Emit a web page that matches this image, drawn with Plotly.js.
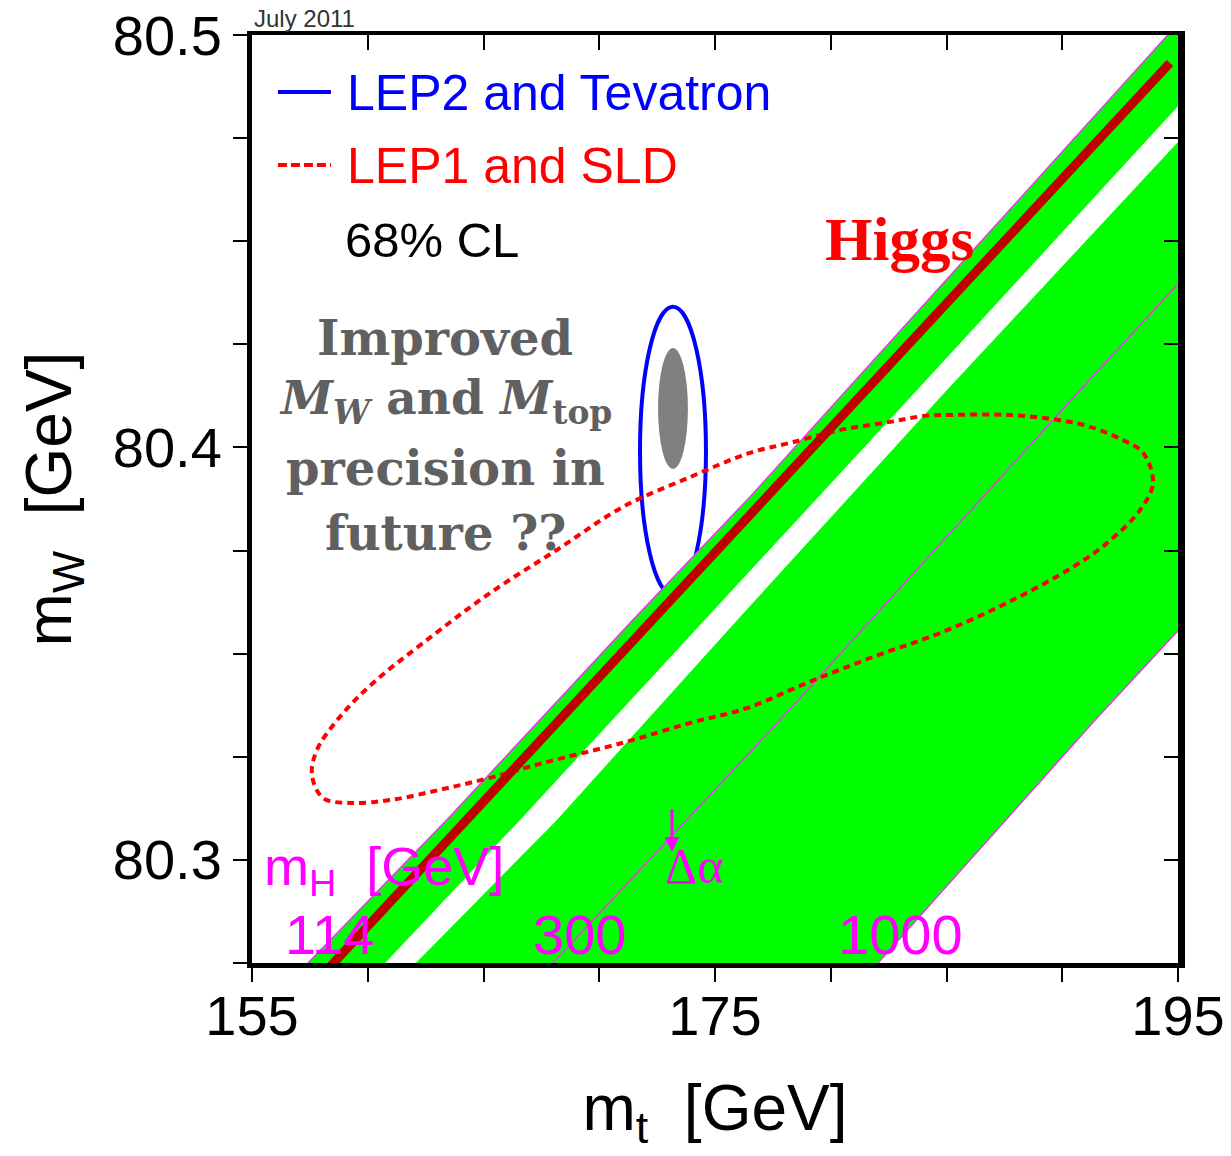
<!DOCTYPE html>
<html>
<head>
<meta charset="utf-8">
<script src="https://cdn.plot.ly/plotly-3.0.1.min.js"></script>
<style>html,body{margin:0;padding:0;background:#fff;}#chart{width:1231px;height:1156px;}</style>
</head>
<body>
<div id="chart"></div>
<script>
// ---------- data ----------
const mtTicks = [155,160,165,170,175,180,185,190,195];
const mtLabelVals = [155,175,195];
const mtLabelText = ['155','175','195'];
const mwTicks = [80.275,80.3,80.325,80.35,80.375,80.4,80.425,80.45,80.475,80.5];
const mwLabelVals = [80.3,80.4,80.5];
const mwLabelText = ['80.3','80.4','80.5'];

// SM band edges (m_t, m_W)
const edgeA_mt = [157.42, 163.42, 171.46, 176.51, 194.48, 195.3];   // mH = 114 edge
const edgeA_mw = [80.275, 80.3097, 80.3582, 80.3880, 80.4995, 80.5046];
const edgeB_mt = [195.3, 194.96, 183.73, 176.08, 166.58, 160.75];   // end of first green strip
const edgeB_mw = [80.4846, 80.4825, 80.4139, 80.3674, 80.3097, 80.275];
const edgeC_mt = [162.08, 168.17, 176.08, 185.02, 194.96, 195.3];   // start of second green strip
const edgeC_mw = [80.275, 80.3097, 80.3589, 80.4139, 80.4738, 80.4757];
const edgeD_mt = [195.3, 194.96, 191.50, 182.04];                   // mH = 1000 edge
const edgeD_mw = [80.3572, 80.3553, 80.3344, 80.275];
const line300_mt = [168.0, 177.81, 190.77, 194.96];
const line300_mw = [80.275, 80.3339, 80.4139, 80.4394];

// Higgs line
const higgs_mt = [158.24, 194.65];
const higgs_mw = [80.2733, 80.4932];

// LEP1 and SLD 68% CL contour
const lep1_mt = [157.59,157.81,158.80,160.23,162.39,165.28,168.18,171.03,173.92,176.51,178.24,180.40,182.56,183.99,185.45,187.61,189.77,191.20,192.62,193.49,193.92,193.36,191.93,190.46,187.61,184.72,181.83,178.97,176.38,173.92,171.03,167.57,165.28,163.12,160.96,159.23,158.07,157.59];
const lep1_mw = [80.3206,80.3267,80.3347,80.3429,80.3526,80.3647,80.3752,80.3856,80.3928,80.3987,80.4011,80.4042,80.4062,80.4076,80.4079,80.4079,80.4067,80.4050,80.4018,80.3987,80.3914,80.3848,80.3768,80.3710,80.3623,80.3550,80.3492,80.3429,80.3368,80.3332,80.3284,80.3235,80.3199,80.3170,80.3145,80.3138,80.3150,80.3206];

// LEP2 and Tevatron 68% CL ellipse (bounding box)
const lep2_mt = [171.76, 174.61];
const lep2_mw = [80.3642, 80.4341];
// future precision ellipse (bounding box)
const future_mt = [172.54, 173.83];
const future_mw = [80.3948, 80.4241];

// ---------- traces ----------
const magenta = '#e040e8';
const traces = [
  {x: edgeA_mt.concat(edgeB_mt), y: edgeA_mw.concat(edgeB_mw), mode:'lines', fill:'toself',
   fillcolor:'#00ff00', line:{width:0}, hoverinfo:'skip', showlegend:false},
  {x: edgeC_mt.concat(edgeD_mt), y: edgeC_mw.concat(edgeD_mw), mode:'lines', fill:'toself',
   fillcolor:'#00ff00', line:{width:0}, hoverinfo:'skip', showlegend:false},
  {x: edgeA_mt, y: edgeA_mw, mode:'lines', line:{color:magenta, width:1.6}, showlegend:false},
  {x: edgeD_mt, y: edgeD_mw, mode:'lines', line:{color:magenta, width:1.6}, showlegend:false},
  {x: line300_mt, y: line300_mw, mode:'lines', line:{color:magenta, width:1.6}, showlegend:false},
  {x: lep1_mt, y: lep1_mw, mode:'lines', line:{color:'#ff0000', width:4, dash:'7px,5px', shape:'spline', smoothing:1},
   showlegend:false},
  {x: higgs_mt, y: higgs_mw, mode:'lines', line:{color:'#c00000', width:9}, showlegend:false},
  {x:[null], y:[null], xaxis:'x2', yaxis:'y2', mode:'lines', showlegend:false, hoverinfo:'skip'},
  {x:[null], y:[null], xaxis:'x3', yaxis:'y3', mode:'lines', showlegend:false, hoverinfo:'skip'}
];

const txt = (o) => Object.assign({xref:'x', yref:'y', showarrow:false}, o);
const sans = 'Liberation Sans, Arial, sans-serif';
const serifB = 'DejaVu Serif, serif';
const annotations = [
  txt({x:159.02, y:80.4859, xanchor:'left', yanchor:'middle', text:'LEP2 and Tevatron', font:{family:sans, size:50, color:'#0000ff'}}),
  txt({x:159.02, y:80.4682, xanchor:'left', yanchor:'middle', text:'LEP1 and SLD', font:{family:sans, size:50, color:'#ff0000'}}),
  txt({x:158.93, y:80.4503, xanchor:'left', yanchor:'middle', text:'68% CL', font:{family:sans, size:49, color:'#000000'}}),
  txt({x:182.99, y:80.4503, xanchor:'center', yanchor:'middle', text:'Higgs', font:{family:'Liberation Serif, serif', size:61, color:'#ff0000', weight:700}}),
  txt({x:163.34, y:80.42655, xanchor:'center', yanchor:'middle', text:'Improved', font:{family:serifB, size:48, color:'#606060', weight:700}}),
  txt({x:163.34, y:80.41127, xanchor:'center', yanchor:'middle', text:'<i>M</i><sub><i>W</i></sub> and <i>M</i><sub>top</sub>', font:{family:serifB, size:47, color:'#606060', weight:700}}),
  txt({x:163.34, y:80.39503, xanchor:'center', yanchor:'middle', text:'precision in', font:{family:serifB, size:48, color:'#606060', weight:700}}),
  txt({x:163.34, y:80.37927, xanchor:'center', yanchor:'middle', text:'future ??', font:{family:serifB, size:48, color:'#606060', weight:700}}),
  txt({x:155.43, y:80.2975, xanchor:'left', yanchor:'middle', text:'m<sub>H</sub>&nbsp; [GeV]', font:{family:sans, size:54, color:'#ff00ff'}}),
  txt({x:158.33, y:80.2819, xanchor:'center', yanchor:'middle', text:'114', font:{family:sans, size:56, color:'#ff00ff'}}),
  txt({x:169.13, y:80.2819, xanchor:'center', yanchor:'middle', text:'300', font:{family:sans, size:56, color:'#ff00ff'}}),
  txt({x:183.03, y:80.2819, xanchor:'center', yanchor:'middle', text:'1000', font:{family:sans, size:56, color:'#ff00ff'}}),
  txt({x:174.10, y:80.2985, xanchor:'center', yanchor:'middle', text:'Δα', font:{family:'Liberation Serif, serif', size:50, color:'#ff00ff'}}),
  {xref:'x', yref:'y', x:173.14, y:80.3019, ax:0, ay:-44, text:'', showarrow:true, arrowhead:2, arrowsize:1, arrowwidth:3, arrowcolor:'#ff00ff'},
  {xref:'paper', yref:'paper', x:0, y:1.0183, xanchor:'left', yanchor:'middle', showarrow:false, text:'July 2011', font:{family:sans, size:24, color:'#333333'}}
];

const shapes = [
  {type:'circle', xref:'x', yref:'y', x0:lep2_mt[0], x1:lep2_mt[1], y0:lep2_mw[0], y1:lep2_mw[1],
   line:{color:'#0000ff', width:4}, layer:'below'},
  {type:'circle', xref:'x', yref:'y', x0:future_mt[0], x1:future_mt[1], y0:future_mw[0], y1:future_mw[1],
   fillcolor:'#808080', line:{width:0}, layer:'above'},
  // legend samples
  {type:'line', xref:'x', yref:'y', x0:156.12, x1:158.41, y0:80.4862, y1:80.4862, line:{color:'#0000ff', width:4}},
  {type:'line', xref:'x', yref:'y', x0:156.12, x1:158.41, y0:80.4685, y1:80.4685, line:{color:'#ff0000', width:4, dash:'9px,4px'}}
];

const axFont = {family:sans, size:56, color:'#000'};
const titleFont = {family:sans, size:64, color:'#000'};
const layout = {
  width:1231, height:1156,
  margin:{l:252, r:53, t:35, b:193},
  paper_bgcolor:'#fff', plot_bgcolor:'#fff',
  showlegend:false,
  // bottom axis: labels only
  xaxis:{range:[155,195], tickmode:'array', tickvals:mtLabelVals, ticktext:mtLabelText,
    ticks:'', showgrid:false, zeroline:false,
    showline:true, linewidth:5, linecolor:'#000', tickfont:axFont,
    title:{text:'m<sub>t</sub>&nbsp; [GeV]', font:titleFont, standoff:40}},
  // top axis: inside ticks
  xaxis2:{range:[155,195], overlaying:'x', side:'top', anchor:'y', tickmode:'array', tickvals:mtTicks,
    showticklabels:false, ticks:'inside', ticklen:15, tickwidth:2, tickcolor:'#000', showgrid:false, zeroline:false,
    showline:true, linewidth:4, linecolor:'#000'},
  // bottom axis: outside ticks
  xaxis3:{range:[155,195], overlaying:'x', side:'bottom', anchor:'y', tickmode:'array', tickvals:mtTicks,
    showticklabels:false, ticks:'outside', ticklen:18, tickwidth:2, tickcolor:'#000', showgrid:false, zeroline:false,
    showline:false},
  yaxis:{range:[80.275,80.5], tickmode:'array', tickvals:mwLabelVals, ticktext:mwLabelText,
    ticks:'', ticklabelstandoff:14, showgrid:false, zeroline:false,
    showline:true, linewidth:5, linecolor:'#000', tickfont:axFont,
    title:{text:'m<sub>W</sub>&nbsp; [GeV]', font:titleFont, standoff:22}},
  yaxis2:{range:[80.275,80.5], overlaying:'y', side:'right', anchor:'x', tickmode:'array', tickvals:mwTicks,
    showticklabels:false, ticks:'inside', ticklen:14, tickwidth:2, tickcolor:'#000', showgrid:false, zeroline:false,
    showline:true, linewidth:7, linecolor:'#000'},
  yaxis3:{range:[80.275,80.5], overlaying:'y', side:'left', anchor:'x', tickmode:'array', tickvals:mwTicks,
    showticklabels:false, ticks:'outside', ticklen:18, tickwidth:2, tickcolor:'#000', showgrid:false, zeroline:false,
    showline:false},
  annotations: annotations,
  shapes: shapes
};

Plotly.newPlot('chart', traces, layout, {displayModeBar:false, staticPlot:true});
</script>
</body>
</html>
